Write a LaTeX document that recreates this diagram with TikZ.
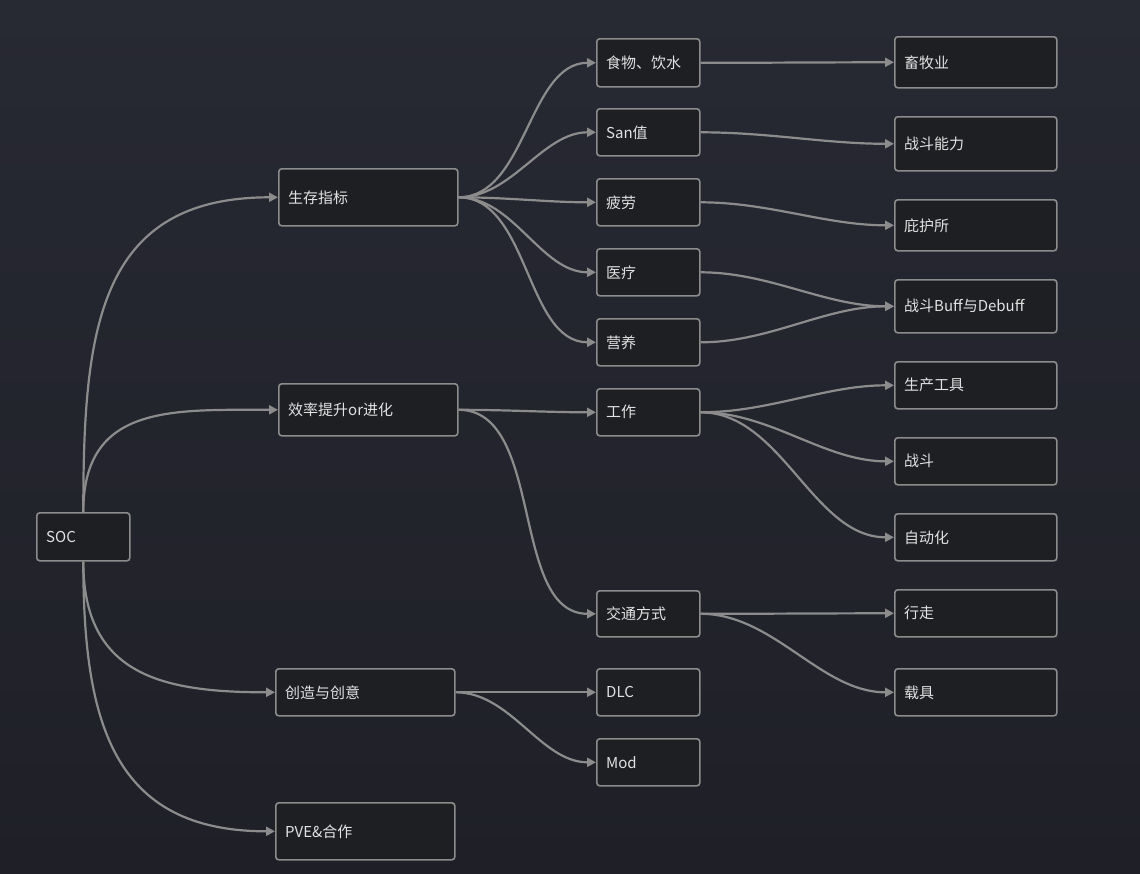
\documentclass[tikz,border=0pt]{standalone}
\usepackage{fontspec}
\setmainfont{Noto Sans CJK SC}
\usetikzlibrary{arrows.meta}
\definecolor{bg}{HTML}{272933}
\definecolor{bg2}{HTML}{1F2027}
\definecolor{bx}{HTML}{1E1F23}
\definecolor{ln}{HTML}{8C8C8C}
\definecolor{tx}{HTML}{E2E2E2}
\newcommand{\mybox}[6]{%
  \pgfmathsetmacro{\bw}{#4-#2}\pgfmathsetmacro{\bh}{#5-#3}%
  \node[box, minimum width=\bw pt, minimum height=\bh pt] (#1) at (#2,-#3) {};
  \node[lbl] at ([xshift=10pt]#1.west) {#6};}
\begin{document}
\begin{tikzpicture}[x=1pt,y=1pt,
  box/.style={draw=ln, line width=1.6pt, fill=bx, rounded corners=3pt, inner sep=0, anchor=north west},
  lbl/.style={anchor=west, text=tx, font=\fontsize{15}{18}\selectfont, inner sep=0},
  e/.style={draw=ln, line width=2.2pt, -{Triangle[length=9pt,width=9pt]}, out=0, in=180, looseness=0.9},
  s/.style={draw=ln, line width=2.2pt, -{Triangle[length=9pt,width=9pt]}, looseness=1.25}]
\useasboundingbox (0,0) rectangle (1140,-873);
\shade[top color=bg, bottom color=bg2] (0,0) rectangle (1140,-873);
\mybox{soc}{36}{512}{129}{560}{SOC}
\mybox{a}{278}{168}{457}{225}{生存指标}
\mybox{b}{278}{383}{457}{435}{效率提升or进化}
\mybox{c}{275}{668}{454}{715}{创造与创意}
\mybox{d}{275}{802}{454}{859}{PVE\&合作}
\mybox{a1}{596}{38}{699}{86}{食物、饮水}
\mybox{a2}{596}{108}{699}{155}{San值}
\mybox{a3}{596}{178}{699}{225}{疲劳}
\mybox{a4}{596}{248}{699}{295}{医疗}
\mybox{a5}{596}{318}{699}{365}{营养}
\mybox{b1}{596}{388}{699}{435}{工作}
\mybox{b2}{596}{590}{699}{636}{交通方式}
\mybox{c1}{596}{668}{699}{715}{DLC}
\mybox{c2}{596}{738}{699}{785}{Mod}
\mybox{r1}{894}{36}{1056}{87}{畜牧业}
\mybox{r2}{894}{116}{1056}{170}{战斗能力}
\mybox{r3}{894}{199}{1056}{250}{庇护所}
\mybox{r4}{894}{279}{1056}{332}{战斗Buff与Debuff}
\mybox{r5}{894}{361}{1056}{408}{生产工具}
\mybox{r6}{894}{437}{1056}{484}{战斗}
\mybox{r7}{894}{513}{1056}{560}{自动化}
\mybox{r8}{894}{589}{1056}{636}{行走}
\mybox{r9}{894}{668}{1056}{715}{载具}
\draw[s] (soc.north) to[out=90,in=180] (a.west);
\draw[s] (soc.north) to[out=90,in=180] (b.west);
\draw[s] (soc.south) to[out=-90,in=180] (c.west);
\draw[s] (soc.south) to[out=-90,in=180] (d.west);
\foreach \t in {a1,a2,a3,a4,a5} \draw[e] (a.east) to (\t.west);
\draw[e] (b.east) to (b1.west);
\draw[e] (b.east) to (b2.west);
\draw[e] (c.east) to (c1.west);
\draw[e] (c.east) to (c2.west);
\draw[e] (a1.east) to (r1.west);
\draw[e] (a2.east) to (r2.west);
\draw[e] (a3.east) to (r3.west);
\draw[e] (a4.east) to (r4.west);
\draw[e] (a5.east) to (r4.west);
\draw[e] (b1.east) to (r5.west);
\draw[e] (b1.east) to (r6.west);
\draw[e] (b1.east) to (r7.west);
\draw[e] (b2.east) to (r8.west);
\draw[e] (b2.east) to (r9.west);
\end{tikzpicture}
\end{document}
